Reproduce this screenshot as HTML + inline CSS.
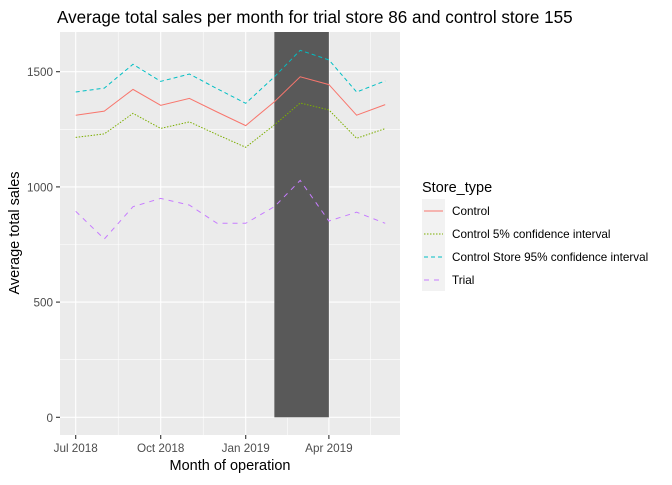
<!DOCTYPE html>
<html><head><meta charset="utf-8"><style>
body{margin:0;background:#fff;}
text{font-family:"Liberation Sans",Arial,sans-serif;}
</style></head><body>
<svg id="chart" width="672" height="480" viewBox="0 0 672 480" xmlns="http://www.w3.org/2000/svg">
<text x="57" y="23" font-size="17.1" fill="#000">Average total sales per month for trial store 86 and control store 155</text>
<rect x="60" y="32" width="340" height="403" fill="#ebebeb"/>
<g id="grid"></g>
<g id="marks"></g>
<g id="axes"></g>
<text transform="translate(19,233) rotate(-90)" text-anchor="middle" font-size="14.5" fill="#000">Average total sales</text>
<text x="230" y="470" text-anchor="middle" font-size="14.5" fill="#000">Month of operation</text>
<g>
<text x="422" y="192" font-size="14.5" fill="#000">Store_type</text>
<rect x="422" y="199" width="23" height="92" fill="#f2f2f2"/>
<g id="legend"></g>
</g>
</svg>
<script>
const months=["2018-07-01","2018-08-01","2018-09-01","2018-10-01","2018-11-01","2018-12-01","2019-01-01","2019-02-01","2019-03-01","2019-04-01","2019-05-01","2019-06-01"];
const control=[1311,1329,1423,1354,1384,1325,1266,1370,1478,1444,1311,1357];
const control5=[1215,1230,1319,1254,1282,1227,1172,1269,1364,1334,1211,1253];
const control95=[1412,1429,1532,1458,1490,1426,1363,1478,1593,1551,1412,1460];
const trial=[894,774,914,950,921,842,842,914,1028,852,890,842];
const yTicks=[0,500,1000,1500];
const yMinor=[250,750,1250];
const xTicks=["2018-07-01","2018-10-01","2019-01-01","2019-04-01"];
const xTickLabels=["Jul 2018","Oct 2018","Jan 2019","Apr 2019"];
const xMinor=["2018-08-16","2018-11-16","2019-02-15","2019-05-16"];
const trialPeriod=["2019-02-01","2019-04-01"];
const seriesNames=["Control","Control 5% confidence interval","Control Store 95% confidence interval","Trial"];

const NS="http://www.w3.org/2000/svg";
const day=d=>Date.parse(d+"T00:00:00Z")/86400000;
const x0=day("2018-07-01");
const X=d=>75.7+(day(d)-x0)*0.924;
const Y=v=>417.3-v*0.2304;
function mk(tag,attrs,parent){const e=document.createElementNS(NS,tag);for(const k in attrs)e.setAttribute(k,attrs[k]);parent.appendChild(e);return e;}
const grid=document.getElementById('grid'),marks=document.getElementById('marks'),axes=document.getElementById('axes'),leg=document.getElementById('legend');
yMinor.forEach(v=>{const l=mk('line',{x1:60,x2:400,y1:Y(v),y2:Y(v),stroke:'#fff','stroke-width':0.55},grid);

});
xMinor.forEach(d=>{const l=mk('line',{x1:X(d),x2:X(d),y1:32,y2:435,stroke:'#fff','stroke-width':0.55},grid);

});
yTicks.forEach(v=>{const l=mk('line',{x1:60,x2:400,y1:Y(v),y2:Y(v),stroke:'#fff','stroke-width':1.1},grid);


mk('line',{x1:56,x2:60,y1:Y(v),y2:Y(v),stroke:'#333','stroke-width':1.1},axes);
const t=mk('text',{x:53,y:Y(v)+4.5,'text-anchor':'end','font-size':11.7,fill:'#4d4d4d'},axes);t.textContent=v;

});
xTicks.forEach((d,i)=>{const l=mk('line',{x1:X(d),x2:X(d),y1:32,y2:435,stroke:'#fff','stroke-width':1.1},grid);


mk('line',{x1:X(d),x2:X(d),y1:435,y2:439,stroke:'#333','stroke-width':1.1},axes);
const t=mk('text',{x:X(d),y:452,'text-anchor':'middle','font-size':11.7,fill:'#4d4d4d'},axes);t.textContent=xTickLabels[i];

});
const r=mk('rect',{x:X(trialPeriod[0]),y:32,width:X(trialPeriod[1])-X(trialPeriod[0]),height:Y(0)-32,fill:'#595959'},marks);


const styles=[{c:'#F8766D',d:''},{c:'#7CAE00',d:'1.5,1.5'},{c:'#00BFC4',d:'4,3'},{c:'#C77CFF',d:'5,5'}];
const names=['control-line','control-5pct-line','control-95pct-line','trial-line'];
[control,control5,control95,trial].forEach((s,i)=>{
const p=mk('polyline',{points:s.map((v,j)=>X(months[j]).toFixed(1)+','+Y(v).toFixed(1)).join(' '),fill:'none',stroke:styles[i].c,'stroke-width':1,'stroke-dasharray':styles[i].d},marks);


const yy=211+i*23;
mk('line',{x1:424,x2:443,y1:yy,y2:yy,stroke:styles[i].c,'stroke-width':1,'stroke-dasharray':styles[i].d},leg);
const t=mk('text',{x:452,y:yy+4,'font-size':11.7,fill:'#000'},leg);t.textContent=seriesNames[i];

});
</script>
</body></html>
